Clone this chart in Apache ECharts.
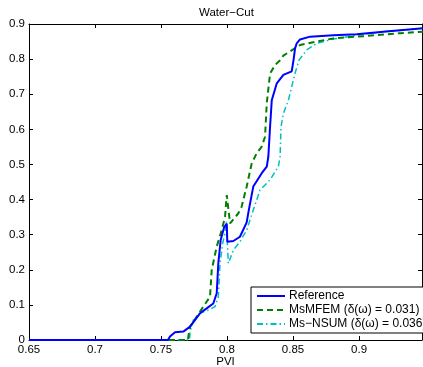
<!DOCTYPE html>
<html>
<head>
<meta charset="utf-8">
<script src="https://cdn.jsdelivr.net/npm/echarts@6/dist/echarts.min.js"></script>
<style>
  html, body { margin: 0; padding: 0; background: #fff; }
  #chart { width: 423px; height: 367px; }
</style>
</head>
<body>
<div id="chart"></div>
<script>
// Water-cut curves versus pore volumes injected (PVI)
const refPvi = [0.65, 0.7553, 0.7568, 0.7606, 0.7669, 0.7720, 0.7795, 0.7846, 0.7896, 0.7922, 0.7934, 0.7952, 0.7977, 0.7998, 0.8002, 0.8048, 0.8098, 0.8149, 0.8165, 0.8199, 0.8263, 0.8301, 0.8313, 0.8326, 0.8339, 0.8377, 0.8427, 0.8490, 0.8500, 0.8505, 0.8515, 0.8528, 0.8553, 0.8629, 0.8805, 0.8983, 0.9184, 0.9485];
const refWc  = [0, 0, 0.010, 0.022, 0.024, 0.038, 0.076, 0.090, 0.104, 0.133, 0.218, 0.285, 0.320, 0.332, 0.280, 0.282, 0.294, 0.335, 0.370, 0.437, 0.475, 0.494, 0.522, 0.607, 0.683, 0.731, 0.755, 0.765, 0.770, 0.800, 0.830, 0.845, 0.856, 0.864, 0.868, 0.871, 0.878, 0.888];

const msmfemPvi = [0.65, 0.7705, 0.7707, 0.7720, 0.7770, 0.7820, 0.7871, 0.7884, 0.7922, 0.7960, 0.7985, 0.7998, 0.8002, 0.8023, 0.8086, 0.8111, 0.8136, 0.8149, 0.8187, 0.8225, 0.8263, 0.8288, 0.8301, 0.8326, 0.8364, 0.8402, 0.8427, 0.8553, 0.8680, 0.8805, 0.9058, 0.9311, 0.9485];
const msmfemWc  = [0, 0, 0.010, 0.038, 0.066, 0.095, 0.123, 0.199, 0.266, 0.313, 0.351, 0.413, 0.400, 0.332, 0.361, 0.380, 0.418, 0.437, 0.503, 0.532, 0.551, 0.579, 0.674, 0.759, 0.783, 0.797, 0.810, 0.840, 0.850, 0.859, 0.866, 0.874, 0.878];

const nsumPvi = [0.65, 0.7715, 0.7718, 0.7720, 0.7745, 0.7795, 0.7858, 0.7909, 0.7934, 0.7947, 0.7967, 0.7985, 0.7995, 0.8000, 0.8010, 0.8048, 0.8098, 0.8149, 0.8174, 0.8199, 0.8250, 0.8326, 0.8389, 0.8402, 0.8409, 0.8427, 0.8465, 0.8490, 0.8515, 0.8545, 0.8604, 0.8680, 0.8805, 0.8983, 0.9184, 0.9485];
const nsumWc  = [0, 0, 0.010, 0.024, 0.057, 0.076, 0.085, 0.095, 0.123, 0.218, 0.275, 0.304, 0.337, 0.340, 0.218, 0.256, 0.280, 0.313, 0.342, 0.370, 0.427, 0.456, 0.494, 0.522, 0.607, 0.645, 0.683, 0.721, 0.759, 0.797, 0.826, 0.845, 0.857, 0.868, 0.878, 0.888];

const seriesNames = ['Reference', 'MsMFEM (δ(ω) = 0.031)', 'Ms\u2212NSUM (δ(ω) = 0.036)'];

const zip = (xs, ys) => xs.map((x, i) => [x, ys[i]]);

const FONT = 'Liberation Sans, Arial, Helvetica, sans-serif';
const X_MIN = 0.65, X_MAX = 0.9477;

const frameAxisX = (pos, labels) => ({
  type: 'value', position: pos, min: X_MIN, max: X_MAX, interval: 0.05,
  axisLine: { show: true, onZero: false, lineStyle: { color: '#000', width: 1 } },
  axisTick: { show: true, inside: true, length: 4, lineStyle: { color: '#000' } },
  axisLabel: { show: labels, color: '#000', fontFamily: FONT, fontSize: 11.5, margin: 4, showMaxLabel: false },
  splitLine: { show: false }
});
const frameAxisY = (pos, labels) => ({
  type: 'value', position: pos, min: 0, max: 0.9, interval: 0.1,
  axisLine: { show: true, onZero: false, lineStyle: { color: '#000', width: 1 } },
  axisTick: { show: true, inside: true, length: 4, lineStyle: { color: '#000' } },
  axisLabel: { show: labels, color: '#000', fontFamily: FONT, fontSize: 11.5, margin: 4 },
  splitLine: { show: false }
});

const xBottom = frameAxisX('bottom', true);
xBottom.name = 'PVI';
xBottom.nameLocation = 'middle';
xBottom.nameGap = 16;
xBottom.nameMoveOverlap = false;
xBottom.nameTextStyle = { color: '#000', fontFamily: FONT, fontSize: 11.5 };

const chart = echarts.init(document.getElementById('chart'), null, { renderer: 'canvas' });
chart.setOption({
  animation: false,
  backgroundColor: '#fff',
  title: {
    text: 'Water\u2212Cut', left: 199, top: 7, padding: 0,
    textStyle: { color: '#000', fontFamily: FONT, fontSize: 11.5, fontWeight: 'normal' }
  },
  grid: { left: 29, right: 1, top: 24, bottom: 27, outerBoundsMode: 'none', containLabel: false },
  xAxis: [xBottom, frameAxisX('top', false)],
  yAxis: [frameAxisY('left', true), frameAxisY('right', false)],
  legend: {
    orient: 'vertical', left: 251, top: 287,
    backgroundColor: '#fff', borderColor: '#000', borderWidth: 1,
    padding: [3, 3, 3, 5], itemGap: 2, itemWidth: 28, itemHeight: 12,
    itemStyle: { opacity: 0 },
    textStyle: { color: '#000', fontFamily: FONT, fontSize: 12, padding: [0, 0, 0, -1] },
    data: seriesNames
  },
  series: [
    {
      name: seriesNames[0], type: 'line', symbol: 'none', data: zip(refPvi, refWc),
      lineStyle: { color: '#0000ff', width: 2 }, itemStyle: { color: '#0000ff' }, z: 4
    },
    {
      name: seriesNames[1], type: 'line', symbol: 'none', data: zip(msmfemPvi, msmfemWc),
      lineStyle: { color: '#008000', width: 2, type: [6, 4] }, itemStyle: { color: '#008000' }, z: 3
    },
    {
      name: seriesNames[2], type: 'line', symbol: 'none', data: zip(nsumPvi, nsumWc),
      lineStyle: { color: '#00bfbf', width: 1.5, type: [6, 3, 1.5, 3] }, itemStyle: { color: '#00bfbf' }, z: 2
    }
  ]
});
</script>
</body>
</html>
